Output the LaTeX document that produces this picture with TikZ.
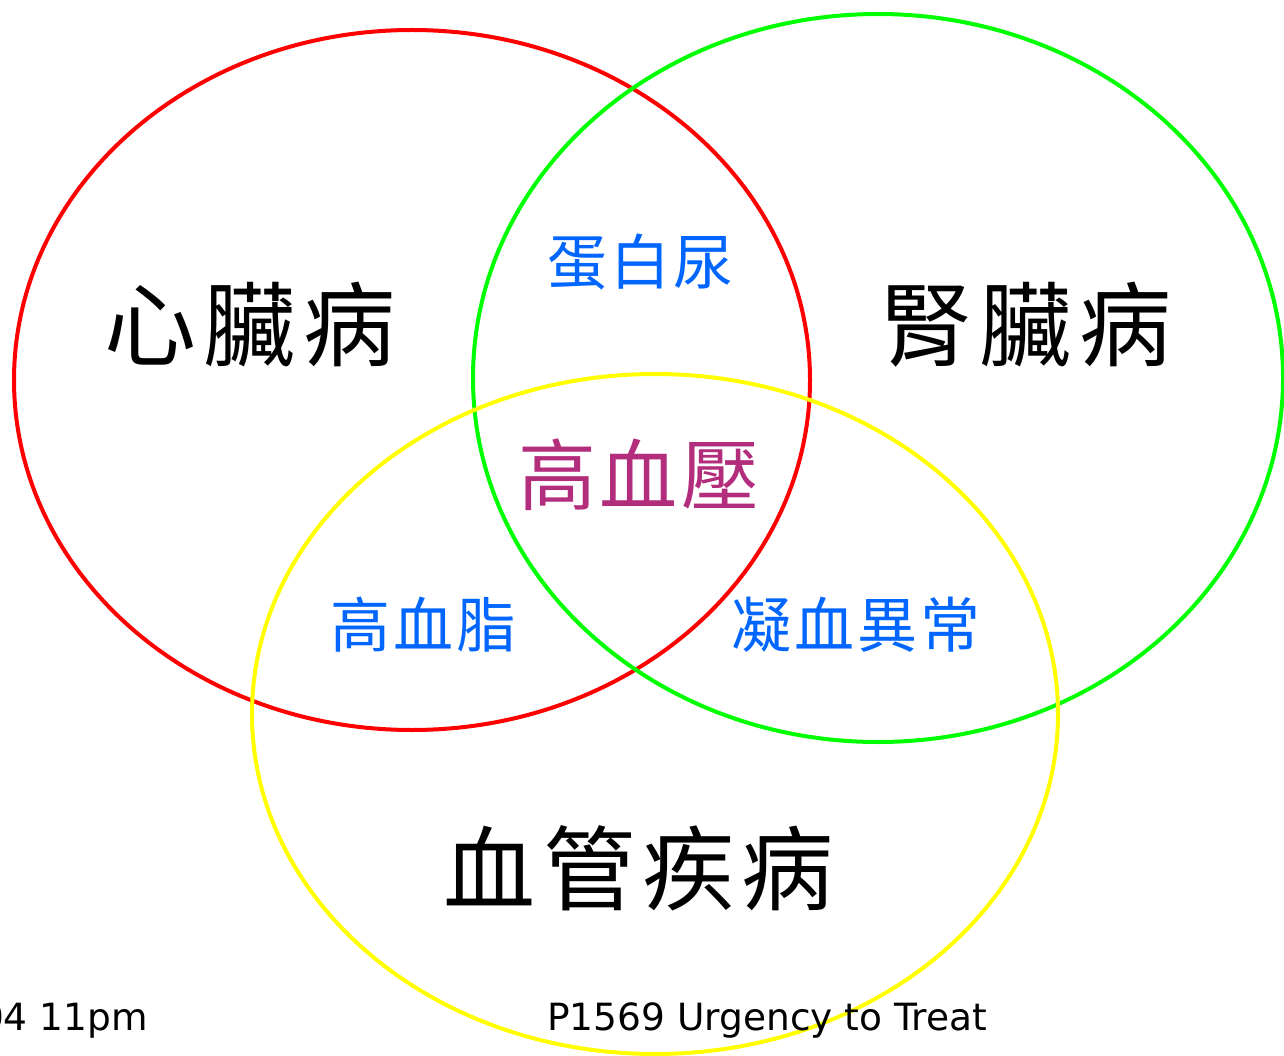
\documentclass[tikz,border=0pt]{standalone}
\usepackage{fontspec}
\setmainfont{DejaVu Sans}
\newfontfamily\cjk{Noto Sans CJK TC}
\definecolor{vred}{RGB}{255,0,0}
\definecolor{vgreen}{RGB}{0,255,0}
\definecolor{vyellow}{RGB}{255,255,0}
\definecolor{lblue}{RGB}{0,102,255}
\definecolor{lmag}{RGB}{179,45,125}
\begin{document}
\begin{tikzpicture}[x=1pt,y=-1pt,
  ring/.style={line width=4pt},
  big/.style={font=\cjk\fontsize{92}{92}\selectfont\addfontfeature{LetterSpace=8}, text=black, inner sep=0pt},
  mid/.style={font=\cjk\fontsize{60}{60}\selectfont\addfontfeature{LetterSpace=5}, text=lblue, inner sep=0pt},
  core/.style={font=\cjk\fontsize{78}{78}\selectfont\addfontfeature{LetterSpace=4}, text=lmag, inner sep=0pt},
  foot/.style={font=\fontsize{37.5}{37.5}\selectfont, text=black, inner sep=0pt}]
\useasboundingbox (0,0) rectangle (1284,1056);
\draw[ring, vred] (412,380) ellipse [x radius=398, y radius=350];
\draw[ring, vgreen] (878,378) ellipse [x radius=405, y radius=364];
\draw[ring, vyellow] (655,714) ellipse [x radius=403, y radius=340];
\node[big] (heart) at (250,325) {心臟病};
\node[big] (kidney) at (1026,325) {腎臟病};
\node[big] (vessel) at (639,868) {血管疾病};
\node[mid] (prot) at (640,262) {蛋白尿};
\node[core] (hbp) at (639,475) {高血壓};
\node[mid] (lipid) at (423,625) {高血脂};
\node[mid] (coag) at (856,625) {凝血異常};
\node[foot, anchor=base west] (title) at (547,1030) {P1569 Urgency to Treat};
\node[foot, anchor=base east] (date) at (148,1030) {04 11pm};
\end{tikzpicture}
\end{document}
